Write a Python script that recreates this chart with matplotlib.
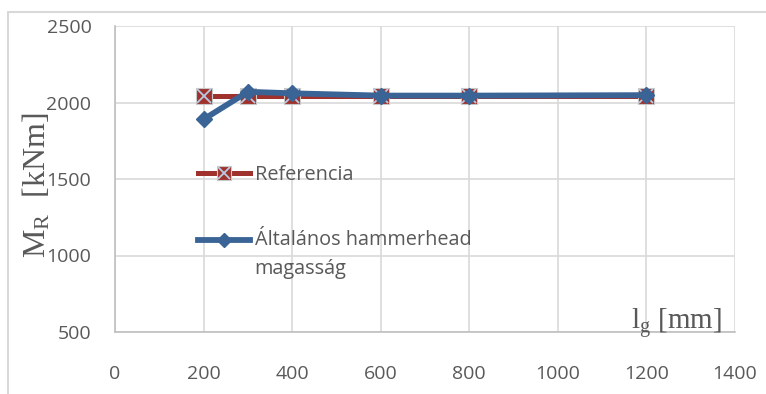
import matplotlib
matplotlib.use("Agg")
import matplotlib.pyplot as plt
from matplotlib.legend_handler import HandlerLine2D, HandlerTuple
import numpy as np

# Data
lg_mm = [200, 300, 400, 600, 800, 1200]
mr_reference = [2045, 2045, 2045, 2045, 2045, 2045]
mr_hammerhead = [1890, 2070, 2060, 2045, 2045, 2048]
series_labels = ["Referencia", "Általános hammerhead\nmagasság"]
x_ticks = [0, 200, 400, 600, 800, 1000, 1200, 1400]
y_ticks = [500, 1000, 1500, 2000, 2500]

RED = "#A0322E"
BLUE = "#3B6496"
XMARK = "#B7CCE2"
TEXT = "#595959"
GRID = "#D9D9D9"
AXIS = "#BFBFBF"

plt.rcParams["font.family"] = ["Open Sans", "DejaVu Sans"]
plt.rcParams["mathtext.fontset"] = "custom"
plt.rcParams["mathtext.rm"] = "Liberation Serif"
plt.rcParams["mathtext.it"] = "Liberation Serif:italic"

W, H = 766, 394
DPI = 100
fig = plt.figure(figsize=(W / DPI, H / DPI), dpi=DPI)
ax = fig.add_axes([115 / W, 1 - 332 / H, 620 / W, 306 / H])

# Outer chart frame (left and top edges visible)
fig.add_artist(plt.Rectangle((8 / W, -0.2), 2.0, 1.2 - 12 / H,
                             transform=fig.transFigure, fill=False,
                             edgecolor=GRID, linewidth=1.5))

# Reference series: red squares with a light cross
ref_line, = ax.plot(lg_mm, mr_reference, color=RED, linewidth=3.6,
                    marker="s", markersize=11.5, markerfacecolor=RED,
                    markeredgecolor="#C8C8C8", markeredgewidth=0.8, zorder=3)
ref_cross, = ax.plot(lg_mm, mr_reference, linestyle="none", marker="x",
                     markersize=10, markeredgecolor=XMARK,
                     markeredgewidth=1.3, zorder=3.1)

# Hammerhead series: blue diamonds
hh_line, = ax.plot(lg_mm, mr_hammerhead, color=BLUE, linewidth=4.2,
                   marker="D", markersize=8.5, markerfacecolor=BLUE,
                   markeredgecolor=BLUE, zorder=4)

ax.set_xlim(0, 1400)
ax.set_ylim(500, 2500)
ax.set_xticks(x_ticks)
ax.set_yticks(y_ticks)
ax.grid(True, color=GRID, linewidth=1.2)
ax.set_axisbelow(True)
for side in ("top", "right"):
    ax.spines[side].set_visible(False)
for side in ("left", "bottom"):
    ax.spines[side].set_color(AXIS)
    ax.spines[side].set_linewidth(1.2)
ax.tick_params(length=0, colors=TEXT, labelsize=14)
ax.tick_params(axis="y", pad=17)
ax.tick_params(axis="x", pad=23.5)
for lab in ax.get_xticklabels() + ax.get_yticklabels():
    lab.set_color(TEXT)

# Axis titles in serif
fig.text(37 / W, 1 - 185 / H, r"M$_\mathrm{R}$  [kNm]", rotation=90,
         ha="center", va="center", fontsize=23, color=TEXT,
         family="Liberation Serif")
ax.text((722 - 115) / 620, 0.01, r"l$_\mathrm{g}$ [mm]", transform=ax.transAxes,
        ha="right", va="baseline", fontsize=21, color=TEXT,
        family="Liberation Serif")

LEG_FS = 14.3
LINE_GAP_PX = 30  # distance between the two lines of the wrapped label


class RaisedLine(HandlerLine2D):
    """Line handler whose sample sits on the first line of a two-line label."""

    def __init__(self, shift_pt, **kw):
        super().__init__(**kw)
        self.shift_pt = shift_pt

    def create_artists(self, legend, orig_handle, xdescent, ydescent,
                       width, height, fontsize, trans):
        arts = super().create_artists(legend, orig_handle, xdescent, ydescent,
                                      width, height, fontsize, trans)
        for a in arts:
            a.set_ydata(np.asarray(a.get_ydata()) + self.shift_pt)
        return arts


leg = ax.legend([(ref_line, ref_cross), hh_line], series_labels,
                handler_map={tuple: HandlerTuple(ndivide=1),
                             hh_line: RaisedLine(0.5 * LINE_GAP_PX * 72 / DPI)},
                loc="upper left",
                bbox_to_anchor=((198 - 115) / 620, 1 - (165 - 26) / 306),
                frameon=False, fontsize=LEG_FS, handlelength=2.6,
                handletextpad=0.25, labelspacing=2.27, borderpad=0,
                borderaxespad=0, labelcolor=TEXT, markerscale=0.85)
# line spacing that gives the wrapped label its wide leading
for t in leg.get_texts():
    t.set_linespacing(1.2 * 1.11 * LINE_GAP_PX / (1.28 * LEG_FS * DPI / 72))

fig.savefig("out.png", dpi=DPI, facecolor="white")
